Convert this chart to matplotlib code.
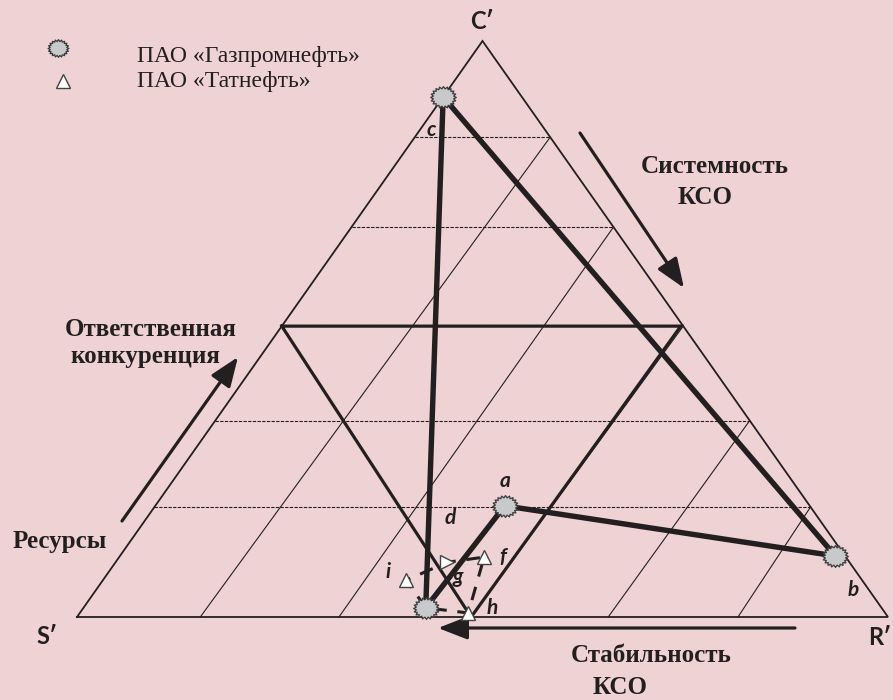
import matplotlib
matplotlib.use('Agg')
import matplotlib.pyplot as plt
import numpy as np
from matplotlib.path import Path
from matplotlib.markers import MarkerStyle

# ---------------- data (ternary shares, %: S', R', C') ----------------
gazprom_labels = ['a', 'b', 'c', 'd']
gazprom_S = [37.6, 1.2, 9.7, 56.2]
gazprom_R = [43.1, 88.2, 0.0, 42.2]
gazprom_C = [19.3, 10.6, 90.3, 1.6]

tatneft_labels = ['f', 'g', 'h', 'i']
tatneft_S = [44.6, 49.6, 51.4, 56.2]
tatneft_R = [45.0, 40.9, 47.9, 37.4]
tatneft_C = [10.4, 9.5, 0.7, 6.4]

# grid: levels of C' (dashed horizontals) and start of diagonals on the base (R')
grid_levels_C = [83.3, 67.7, 50.5, 34.1, 19.1]
diag_start_R = [15.2, 32.3, 48.6, 65.5, 81.5]

# central zone (inverted triangle)
zone_S = [49.5, 0.3, 51.4]
zone_R = [0.0, 49.2, 48.6]
zone_C = [50.5, 50.5, 0.0]

vertex_labels = ["S\u2032", "R\u2032", "C\u2032"]
legend_names = ["ПАО «Газпромнефть»", "ПАО «Татнефть»"]

# ---------------- helpers ----------------
def tern(S, R, C):
    S = np.asarray(S, float); R = np.asarray(R, float); C = np.asarray(C, float)
    tot = S + R + C
    r = R / tot * 100; c = C / tot * 100
    return r + c / 2.0, c

W, H = 893, 700
def P(px, py):
    """figure pixel -> axes data coordinates (layout only)"""
    return (px - 77) / 8.11, (617 - py) / 5.76

BG = '#efd3d4'
INK = '#231f20'

fig = plt.figure(figsize=(W / 100, H / 100), dpi=100, facecolor=BG)
ax = fig.add_axes([0, 0, 1, 1])
ax.set_facecolor(BG)
x0, y0 = P(0, 700)
x1, y1 = P(893, 0)
ax.set_xlim(x0, x1)
ax.set_ylim(y0, y1)
ax.axis('off')

# main triangle
tx, ty = tern([100, 0, 0, 100], [0, 100, 0, 0], [0, 0, 100, 0])
ax.plot(tx, ty, color=INK, lw=1.3, solid_joinstyle='miter', zorder=2)

# dashed horizontal levels
for lv in grid_levels_C:
    ax.plot([lv / 2, 100 - lv / 2], [lv, lv], color=INK, lw=0.8,
            ls=(0, (3, 1.2)), zorder=2)

# diagonals from base to right side
for r0, lv in zip(diag_start_R, grid_levels_C):
    ax.plot([r0, 100 - lv / 2], [0, lv], color=INK, lw=0.8, zorder=2)

# central zone (thick)
zx, zy = tern(zone_S + zone_S[:1], zone_R + zone_R[:1], zone_C + zone_C[:1])
ax.plot(zx, zy, color=INK, lw=2.3, solid_joinstyle='miter', zorder=3)

# Gazprom polygon a-b-c-d
gx, gy = tern(gazprom_S, gazprom_R, gazprom_C)
order = [2, 1, 0, 3, 2]  # c-b-a-d-c
ax.plot(gx[order], gy[order], color=INK, lw=3.9, solid_capstyle='round',
        solid_joinstyle='round', zorder=4)

# Tatneft dashed polygon d-i-g-f-h-d
kx, ky = tern(tatneft_S, tatneft_R, tatneft_C)
px_ = [gx[3], kx[3], kx[1], kx[0], kx[2], gx[3]]
py_ = [gy[3], ky[3], ky[1], ky[0], ky[2], gy[3]]
ax.plot(px_, py_, color=INK, lw=2.2, ls=(0, (4.5, 3.5)), zorder=4)

# star marker
n = 20
ang = np.linspace(0, 2 * np.pi, 2 * n, endpoint=False)
rad = np.where(np.arange(2 * n) % 2 == 0, 1.0, 0.8)
verts = np.c_[rad * np.cos(ang), 0.85 * rad * np.sin(ang)]
star = Path(np.vstack([verts, verts[:1]]),
            [Path.MOVETO] + [Path.LINETO] * (2 * n - 1) + [Path.CLOSEPOLY])
star_m = MarkerStyle(star)

ax.plot(gx, gy, ls='none', marker=star_m, ms=18.5, mfc='#c8c9cb', mec='#3a3a3a',
        mew=0.9, zorder=6)

tri_markers = ['^', '>', '^', '^']
for xx, yy, mk in zip(kx, ky, tri_markers):
    ax.plot([xx], [yy], ls='none', marker=mk, ms=10.5, mfc='white',
            mec='#444444', mew=1.0, zorder=6)

# point labels
lab_font = dict(family='Lato', style='italic', fontweight='bold', fontsize=15,
                color=INK, ha='center', va='center', zorder=7)
g_off = {'a': (0, 25), 'b': (18, -34), 'c': (-12, -33), 'd': (24, 90)}
t_off = {'f': (19, 0), 'g': (11, -15), 'h': (24, 5), 'i': (-18, 8)}
for lbl, xx, yy in zip(gazprom_labels, gx, gy):
    ax.annotate(lbl, (xx, yy), xytext=g_off[lbl], textcoords='offset pixels', **lab_font)
for lbl, xx, yy in zip(tatneft_labels, kx, ky):
    ax.annotate(lbl, (xx, yy), xytext=t_off[lbl], textcoords='offset pixels', **lab_font)

# vertex labels
vfont = dict(family='Lato', fontweight='bold', fontsize=17, color=INK, va='baseline')
ax.text(*P(482, 29), vertex_labels[2], ha='center', **vfont)
ax.text(*P(47, 644), vertex_labels[0], ha='center', **vfont)
ax.text(*P(891, 645), vertex_labels[1], ha='right', **vfont)

# legend
ax.plot(*P(58, 48), ls='none', marker=star_m, ms=15, mfc='#c8c9cb', mec='#3a3a3a', mew=0.9)
ax.plot(*P(63, 81), ls='none', marker='^', ms=10, mfc='white', mec='#444444', mew=1.0)
lfont = dict(family='Liberation Serif', fontsize=17, color=INK, ha='left', va='baseline')
ax.text(*P(137, 62), legend_names[0], **lfont)
ax.text(*P(137, 87), legend_names[1], **lfont)

# arrows
aprops = dict(arrowstyle='-|>,head_length=0.9,head_width=0.35', lw=2.3, color=INK,
              shrinkA=0, shrinkB=0, mutation_scale=20)
ax.annotate('', xy=P(238, 357), xytext=P(122, 521), arrowprops=aprops)
ax.annotate('', xy=P(684, 288), xytext=P(580, 133), arrowprops=aprops)
ax.annotate('', xy=P(438, 628), xytext=P(795, 628), arrowprops=aprops)

# axis captions
bfont = dict(family='Liberation Serif', fontweight='bold', fontsize=18, color=INK,
             va='baseline')
ax.text(*P(715, 173), 'Системность', ha='center', **bfont)
ax.text(*P(705, 204), 'КСО', ha='center', **bfont)
ax.text(*P(151, 336), 'Ответственная', ha='center', **bfont)
ax.text(*P(145, 363), 'конкуренция', ha='center', **bfont)
ax.text(*P(60, 548), 'Ресурсы', ha='center', **bfont)
ax.text(*P(651, 662), 'Стабильность', ha='center', **bfont)
ax.text(*P(620, 694), 'КСО', ha='center', **bfont)

fig.savefig('out.png', dpi=100, facecolor=BG)
